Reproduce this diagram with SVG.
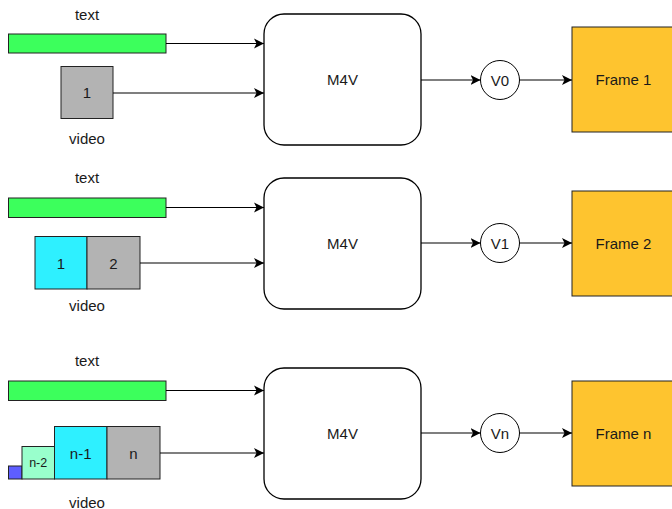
<svg xmlns="http://www.w3.org/2000/svg" width="672" height="509" viewBox="0 0 672 509">
<defs>
<marker id="arr" markerWidth="12" markerHeight="12" refX="10" refY="6" orient="auto" markerUnits="userSpaceOnUse">
<path d="M0,1 L10,6 L0,11 L2.5,6 Z" fill="#000"/>
</marker>
<style>
.lbl{font-family:"Liberation Sans",Arial,sans-serif;font-size:15px;fill:#1a1a1a;text-anchor:middle;dominant-baseline:central}
.sm{font-size:12.5px}
.bar{fill:#3CFF5C;stroke:#222;stroke-width:1}
.gray{fill:#B3B3B3;stroke:#222;stroke-width:1}
.cyan{fill:#2EF0FF;stroke:#222;stroke-width:1}
.mint{fill:#99FFCC;stroke:#222;stroke-width:1}
.blue{fill:#5E5EFF;stroke:#222;stroke-width:1}
.m4v{fill:#fff;stroke:#000;stroke-width:1.3}
.circ{fill:#fff;stroke:#000;stroke-width:1}
.frame{fill:#FEC42F;stroke:#222;stroke-width:1}
.edge{fill:none;stroke:#000;stroke-width:1.1;marker-end:url(#arr)}
</style>
</defs>
<rect width="672" height="509" fill="#fff"/>

<!-- Row 1 -->
<g id="text1"><text class="lbl" x="87" y="14">text</text><rect class="bar" x="8.5" y="34" width="157.5" height="19"/></g>
<g id="video1"><rect class="gray" x="61" y="66.5" width="52" height="52"/><text class="lbl" x="87" y="92.5">1</text><text class="lbl" x="87" y="138">video</text></g>
<g id="m4v1"><rect class="m4v" x="264" y="14" width="157" height="131" rx="20"/><text class="lbl" x="342.5" y="79.5">M4V</text></g>
<g id="v0"><circle class="circ" cx="500" cy="80" r="19.5"/><text class="lbl" x="500" y="80">V0</text></g>
<g id="frame1"><rect class="frame" x="572" y="27" width="110" height="105"/><text class="lbl" x="623.5" y="79.5">Frame 1</text></g>

<!-- Row 2 -->
<g id="text2"><text class="lbl" x="87" y="177">text</text><rect class="bar" x="8.5" y="198" width="157.5" height="19.5"/></g>
<g id="video2"><rect class="cyan" x="35" y="236.5" width="52" height="52.5"/><text class="lbl" x="61" y="263">1</text><rect class="gray" x="87" y="236.5" width="53" height="52.5"/><text class="lbl" x="113.5" y="263">2</text><text class="lbl" x="87" y="305">video</text></g>
<g id="m4v2"><rect class="m4v" x="264" y="178" width="157" height="131" rx="20"/><text class="lbl" x="342.5" y="243">M4V</text></g>
<g id="v1"><circle class="circ" cx="500" cy="243" r="19.5"/><text class="lbl" x="500" y="243">V1</text></g>
<g id="frame2"><rect class="frame" x="572" y="191" width="110" height="105"/><text class="lbl" x="623.5" y="243">Frame 2</text></g>

<!-- Row 3 -->
<g id="text3"><text class="lbl" x="87" y="360">text</text><rect class="bar" x="8.5" y="381" width="157.5" height="19.5"/></g>
<g id="video3">
<rect class="blue" x="8.5" y="466" width="13.5" height="13"/>
<rect class="mint" x="22" y="446.5" width="32.5" height="32.5"/><text class="lbl sm" x="38.2" y="463">n-2</text>
<rect class="cyan" x="54.5" y="426.5" width="52.5" height="52.5"/><text class="lbl" x="80.7" y="453">n-1</text>
<rect class="gray" x="107" y="426.5" width="53" height="52.5"/><text class="lbl" x="133.5" y="453">n</text>
<text class="lbl" x="87" y="502">video</text>
</g>
<g id="m4v3"><rect class="m4v" x="264" y="368" width="157" height="131" rx="20"/><text class="lbl" x="342.5" y="433">M4V</text></g>
<g id="vn"><circle class="circ" cx="500" cy="433" r="19.5"/><text class="lbl" x="500" y="433">Vn</text></g>
<g id="frame3"><rect class="frame" x="572" y="381" width="110" height="105"/><text class="lbl" x="623.5" y="433">Frame n</text></g>

<g id="connectors">
<path class="edge" d="M166,43.5 H264"/>
<path class="edge" d="M113,93 H264"/>
<path class="edge" d="M421,80 H480.5"/>
<path class="edge" d="M519.5,80 H572"/>
<path class="edge" d="M166,207.5 H264"/>
<path class="edge" d="M140,263 H264"/>
<path class="edge" d="M421,243 H480.5"/>
<path class="edge" d="M519.5,243 H572"/>
<path class="edge" d="M166,390.5 H264"/>
<path class="edge" d="M160,453 H264"/>
<path class="edge" d="M421,433 H480.5"/>
<path class="edge" d="M519.5,433 H572"/>
</g>
</svg>
